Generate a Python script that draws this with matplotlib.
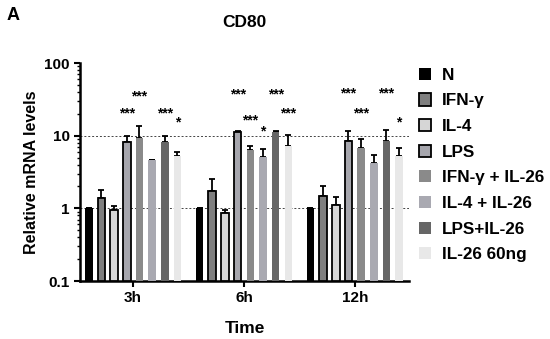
import matplotlib.pyplot as plt
import numpy as np

plt.rcParams['font.family'] = ['Liberation Sans', 'DejaVu Sans']
plt.rcParams['font.weight'] = 'bold'

times = ["3h", "6h", "12h"]
groups = ["N", "IFN-γ", "IL-4", "LPS", "IFN-γ + IL-26", "IL-4 + IL-26",
          "LPS+IL-26", "IL-26 60ng"]

# mean values per time point (rows) and treatment (columns)
means = np.array([
    [1.0, 1.41, 0.96, 8.3, 9.4, 4.6, 8.1, 5.2],
    [1.0, 1.76, 0.86, 11.1, 6.4, 5.1, 11.1, 7.2],
    [1.0, 1.46, 1.10, 8.5, 6.7, 4.2, 8.5, 5.3],
])
# upper error (SD)
errs = np.array([
    [0.0, 0.37, 0.12, 1.7, 4.0, 0.1, 1.8, 0.7],
    [0.0, 0.75, 0.10, 0.6, 0.8, 1.5, 0.4, 2.9],
    [0.0, 0.54, 0.33, 3.2, 2.2, 1.3, 3.3, 1.5],
])
# significance marks: (time index, treatment index, label, height)
stars = [
    (0, 3, "***", 20.4), (0, 4, "***", 34.8), (0, 6, "***", 20.4), (0, 7, "*", 15.4),
    (1, 3, "***", 36.4), (1, 4, "***", 16.4), (1, 5, "*", 11.5), (1, 6, "***", 36.4),
    (1, 7, "***", 20.0),
    (2, 3, "***", 38.7), (2, 4, "***", 20.4), (2, 6, "***", 38.7), (2, 7, "*", 15.4),
]

colors = ["#000000", "#7f7f7f", "#d6d6d6", "#a6a6ad", "#8a8a8a", "#a9a9b1",
          "#666666", "#e8e8e8"]
edged = [False, True, True, True, False, False, False, False]

fig = plt.figure(figsize=(5.5, 3.39), dpi=100)
ax = fig.add_axes([0.1455, 0.171, 0.598, 0.643])

gap = 8.75
width = 0.6
base = 0.1
for j in range(len(groups)):
    xs = np.arange(len(times)) * gap + j
    ax.bar(xs, means[:, j] - base, width=width, bottom=base, color=colors[j],
           edgecolor="black" if edged[j] else colors[j],
           linewidth=1.3 if edged[j] else 0, zorder=3, label=groups[j])
    ax.errorbar(xs, means[:, j], yerr=[np.zeros(3), errs[:, j]],
                fmt="none", ecolor="black", elinewidth=1.3, capsize=2.2,
                capthick=1.3, zorder=2)

for t, j, lab, h in stars:
    ax.text(t * gap + j, h, lab, ha="center", va="center", fontsize=10,
            fontweight="bold")

ax.axhline(1, color="#444444", linestyle=(0, (2, 2)), linewidth=0.7, zorder=1)
ax.axhline(10, color="#444444", linestyle=(0, (2, 2)), linewidth=0.7, zorder=1)

ax.set_yscale("log")
ax.set_ylim(0.1, 100)
ax.set_xlim(-0.69, 2 * gap + 7 + 0.77)
ax.set_yticks([0.1, 1, 10, 100])
ax.set_yticklabels(["0.1", "1", "10", "100"])
ax.set_xticks(np.arange(len(times)) * gap + 3.5)
ax.set_xticklabels(times)
ax.tick_params(axis="both", labelsize=11, width=1.5, length=4)
ax.tick_params(axis="y", which="minor", width=1, length=2.5)
for s in ["top", "right"]:
    ax.spines[s].set_visible(False)
for s in ["left", "bottom"]:
    ax.spines[s].set_linewidth(1.8)

ax.set_ylabel("Relative mRNA levels", fontsize=11.5, fontweight="bold")
ax.set_xlabel("Time", fontsize=12.5, fontweight="bold", labelpad=11)
ax.set_title("CD80", fontsize=12.5, fontweight="bold", pad=26)
fig.text(0.012, 0.94, "A", fontsize=13, fontweight="bold")

ax.legend(loc="upper left", bbox_to_anchor=(1.01, 1.01), frameon=False,
          fontsize=12.3, handlelength=0.72, handleheight=0.72,
          handletextpad=0.6, labelspacing=0.62, borderaxespad=0)

fig.savefig("out.png", dpi=100)
